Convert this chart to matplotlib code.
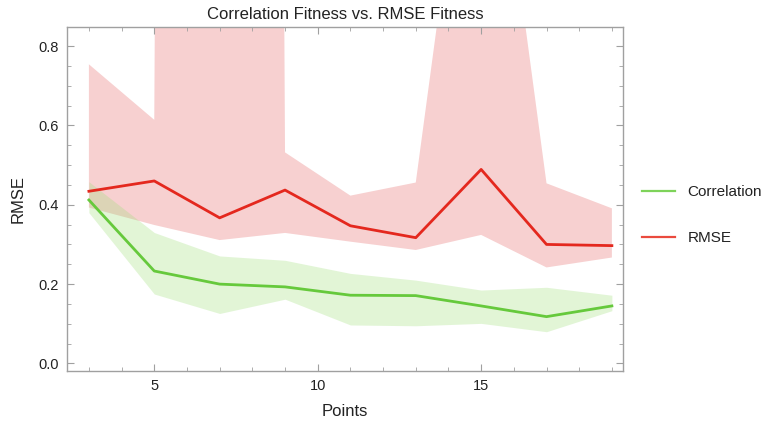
import matplotlib
matplotlib.use("Agg")
import matplotlib.pyplot as plt
from matplotlib.ticker import MultipleLocator, FormatStrFormatter

plt.rcParams['font.family'] = ['Liberation Sans', 'DejaVu Sans']

points = [3, 5, 7, 9, 11, 13, 15, 17, 19]

corr_mean = [0.412, 0.233, 0.200, 0.193, 0.172, 0.171, 0.145, 0.118, 0.145]
corr_lower = [0.380, 0.175, 0.126, 0.162, 0.097, 0.095, 0.101, 0.080, 0.133]
corr_upper = [0.458, 0.330, 0.271, 0.260, 0.227, 0.210, 0.185, 0.192, 0.172]

rmse_mean = [0.434, 0.460, 0.367, 0.437, 0.347, 0.317, 0.489, 0.300, 0.297]
rmse_lower = [0.393, 0.349, 0.311, 0.329, 0.307, 0.286, 0.324, 0.242, 0.267]
rmse_upper = [0.754, 0.614, 30.0, 0.532, 0.423, 0.456, 1.680, 0.454, 0.391]

title = "Correlation Fitness vs. RMSE Fitness"
xlabel = "Points"
ylabel = "RMSE"
labels = ["Correlation", "RMSE"]

fig = plt.figure(figsize=(7.66, 4.32), dpi=100)
ax = fig.add_axes([67/766, 1-371/432, (623-67)/766, (371-27)/432])

red = '#e4281e'
green = '#66c93c'

ax.fill_between(points, rmse_lower, rmse_upper, color='#f7d0d0', lw=0, zorder=1)
ax.fill_between(points, corr_lower, corr_upper, color='#9fe07a', alpha=0.3, lw=0, zorder=2)
ax.plot(points, corr_mean, color=green, lw=2.0, zorder=3, label=labels[0])
ax.plot(points, rmse_mean, color=red, lw=2.0, zorder=4, label=labels[1])

ax.set_xlim(2.33, 19.34)
ax.set_ylim(-0.019, 0.848)
ax.xaxis.set_major_locator(MultipleLocator(5))
ax.xaxis.set_minor_locator(MultipleLocator(1))
ax.yaxis.set_major_locator(MultipleLocator(0.2))
ax.yaxis.set_minor_locator(MultipleLocator(0.05))
ax.yaxis.set_major_formatter(FormatStrFormatter('%.1f'))

gray = '#a0a0a0'
for s in ax.spines.values():
    s.set_color(gray)
    s.set_linewidth(1.0)
ax.tick_params(which='both', direction='in', top=True, right=True, color=gray,
               labelcolor='#222222', labelsize=10.5)
ax.tick_params(which='major', length=5, width=0.8, pad=6)
ax.tick_params(which='minor', length=3, width=0.6)

ax.set_title(title, fontsize=12, color='#222222', pad=6)
ax.set_xlabel(xlabel, fontsize=12, color='#222222', labelpad=8)
ax.set_ylabel(ylabel, fontsize=12, color='#222222', labelpad=9)

handles = [plt.Line2D([], [], color='#7ed35a', lw=1.6),
           plt.Line2D([], [], color='#ea4a3e', lw=1.6)]
fig.legend(handles, labels, loc='center left', bbox_to_anchor=(628/766, 1-215/432),
           frameon=False, fontsize=11, handlelength=2.2, labelspacing=2.1,
           handletextpad=0.8, labelcolor='#222222')

fig.savefig('out.png', dpi=100)
